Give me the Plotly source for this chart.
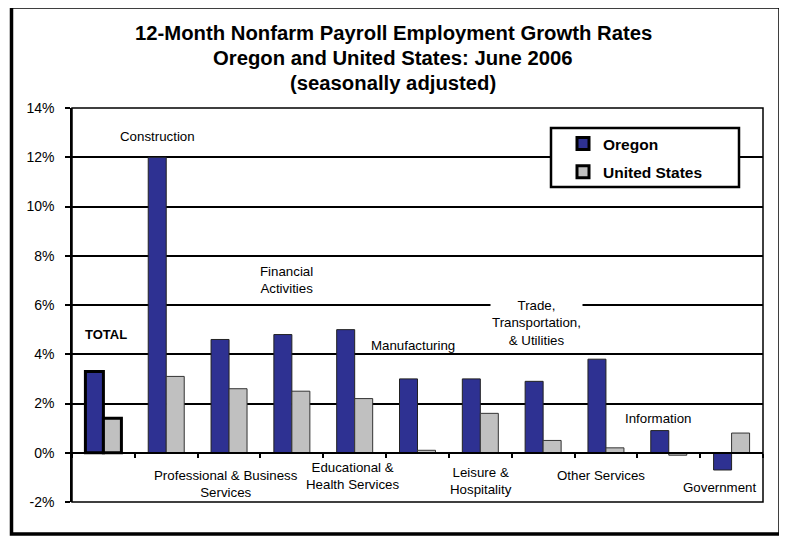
import plotly.graph_objects as go

categories = ["TOTAL", "Construction", "Professional & Business Services",
              "Financial Activities", "Educational & Health Services",
              "Manufacturing", "Leisure & Hospitality",
              "Trade, Transportation, & Utilities", "Other Services",
              "Information", "Government"]
oregon = [3.3, 12.0, 4.6, 4.8, 5.0, 3.0, 3.0, 2.9, 3.8, 0.9, -0.7]
united_states = [1.4, 3.1, 2.6, 2.5, 2.2, 0.1, 1.6, 0.5, 0.2, -0.1, 0.8]
display_labels = ["TOTAL", "Construction", "Professional & Business<br>Services",
                  "Financial<br>Activities", "Educational &<br>Health Services",
                  "Manufacturing", "Leisure &<br>Hospitality",
                  "Trade,<br>Transportation,<br>& Utilities", "Other Services",
                  "Information", "Government"]
y_ticks = [-2, 0, 2, 4, 6, 8, 10, 12, 14]
y_tick_text = [f"{v}%" for v in y_ticks]

# label placement (y in axis units, pixel shift)
label_y = [4.82, 12.85, -1.25, 7.03, -0.96, 4.35, -1.15, 5.27, -0.91, 1.41, -1.41]
label_xshift = [3, -9, -3, -5, -2, -5, 1, -7, -5, -10, -12]

# page body has an 8px margin; compensate so the picture lands where the reference does
OFF = 8
W, H = 787 - OFF, 536 - OFF
L, T = 72 - OFF, 108 - OFF
PW, PH = 691, 394
R, B = W - L - PW, H - T - PH


def px(x):
    return (x - OFF - L) / PW


def py(y):
    return (T + PH - (y - OFF)) / PH


FONT = "Liberation Sans, Arial, sans-serif"
OREGON_COLOR = "#2E3192"
US_COLOR = "#C0C0C0"

line_w = [3] + [1] * (len(categories) - 1)
line_c_or = ["black"] + ["#222222"] * (len(categories) - 1)
line_c_us = ["black"] + ["#333333"] * (len(categories) - 1)

fig = go.Figure()
fig.add_trace(go.Bar(x=categories, y=oregon, name="<b>Oregon</b>", legendgroup="a",
                     marker=dict(color=OREGON_COLOR, line=dict(color=line_c_or, width=line_w))))
fig.add_trace(go.Bar(x=categories, y=united_states, name="<b>United States</b>", legendgroup="b",
                     marker=dict(color=US_COLOR, line=dict(color=line_c_us, width=line_w))))

annotations = []
title_lines = ["12-Month Nonfarm Payroll Employment Growth Rates",
               "Oregon and United States: June 2006",
               "(seasonally adjusted)"]
for txt, ypix in zip(title_lines, [33, 58, 83]):
    annotations.append(dict(text=f"<b>{txt}</b>", xref="paper", yref="paper",
                            x=px(393), y=py(ypix), xanchor="center", yanchor="middle",
                            showarrow=False, font=dict(family=FONT, size=20.3, color="black")))

for i, (cat, lab) in enumerate(zip(categories, display_labels)):
    bold = cat == "TOTAL"
    annotations.append(dict(text=f"<b>{lab}</b>" if bold else lab, x=cat, y=label_y[i],
                            xref="x", yref="y", xshift=label_xshift[i], showarrow=False,
                            xanchor="center", yanchor="middle", align="center",
                            bgcolor="white" if cat.startswith("Trade") else None,
                            font=dict(family=FONT, size=13 if bold else 13.3, color="black")))

shapes = [
    # plot frame
    dict(type="rect", xref="paper", yref="paper", x0=0, x1=1, y0=0, y1=1,
         line=dict(color="black", width=1.5), layer="above"),
    # legend box
    dict(type="rect", xref="paper", yref="paper", x0=px(551), x1=px(739), y0=py(187), y1=py(128),
         line=dict(color="black", width=2.5), fillcolor="white", layer="above"),
    # outer frame
    dict(type="rect", xref="paper", yref="paper", x0=px(11.5), x1=px(780), y0=py(534), y1=py(7),
         line=dict(color="black", width=3.5), layer="above"),
    # frame shadow
    dict(type="rect", xref="paper", yref="paper", x0=px(779), x1=px(787), y0=py(536), y1=py(10),
         line=dict(width=0), fillcolor="black", layer="above"),
]

fig.update_layout(
    width=W, height=H,
    margin=dict(l=L, r=R, t=T, b=B, pad=0),
    paper_bgcolor="white", plot_bgcolor="white",
    barmode="group", bargap=0.427, bargroupgap=0,
    font=dict(family=FONT, color="black"),
    showlegend=True,
    legend=dict(x=px(563), y=py(127), xanchor="left", yanchor="top",
                bgcolor="rgba(0,0,0,0)", borderwidth=0, itemwidth=30,
                tracegroupgap=5, traceorder="grouped",
                font=dict(family=FONT, size=15.5, color="black")),
    annotations=annotations,
    shapes=shapes,
    xaxis=dict(type="category", categoryorder="array", categoryarray=categories,
               anchor="free", position=2 / 16, showline=True, linecolor="black", linewidth=1.5,
               ticks="outside", ticklen=4, tickwidth=1.5, tickcolor="black",
               tickson="boundaries", showticklabels=False, showgrid=False, zeroline=False),
    yaxis=dict(range=[-2, 14], tickvals=y_ticks, ticktext=y_tick_text,
               showgrid=True, gridcolor="black", gridwidth=1.5,
               zeroline=True, zerolinecolor="black", zerolinewidth=1.5,
               showline=True, linecolor="black", linewidth=1.5,
               ticks="outside", ticklen=5, tickwidth=1.5, tickcolor="black",
               ticklabelstandoff=8,
               tickfont=dict(family=FONT, size=14, color="black")),
)

fig.write_html("out.html")
